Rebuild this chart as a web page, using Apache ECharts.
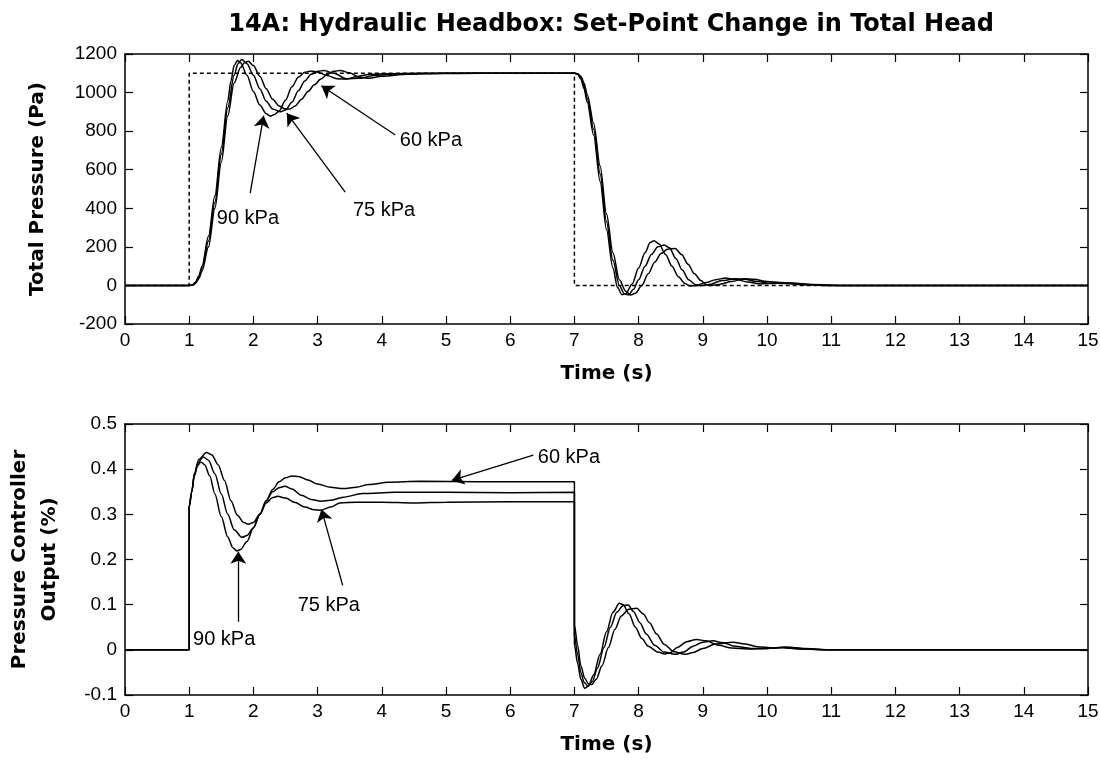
<!DOCTYPE html>
<html>
<head>
<meta charset="utf-8">
<script src="https://cdn.jsdelivr.net/npm/echarts@6/dist/echarts.min.js"></script>
<style>
html, body { margin: 0; padding: 0; background: #fff; }
#chart { width: 1100px; height: 763px; }
</style>
</head>
<body>
<div id="chart"></div>
<script>
// ---- Total head set-point (Pa) ----
const setTime = [0, 1, 1, 7, 7, 15];
const setHead = [0, 0, 1100, 1100, 0, 0];

// ---- Total pressure response (Pa), 90 kPa ----
const headTime90 = [0, 1.0, 1.05, 1.1, 1.15, 1.2, 1.3, 1.4, 1.5, 1.6, 1.65, 1.7, 1.75, 1.8, 1.9, 2.0, 2.1, 2.2, 2.26, 2.33, 2.4, 2.5, 2.6, 2.7, 2.8, 2.9, 3.0, 3.15, 3.3, 3.45, 3.6, 3.8, 4.1, 4.6, 7.0,
  7.05, 7.1, 7.15, 7.2, 7.3, 7.4, 7.5, 7.6, 7.67, 7.74, 7.8, 7.9, 8.0, 8.1, 8.18, 8.24, 8.32, 8.42, 8.52, 8.62, 8.72, 8.8, 8.9, 9.05, 9.2, 9.35, 9.5, 9.7, 9.9, 10.1, 10.3, 10.6, 11, 15];
const head90 = [0, 0, 3, 18, 50, 100, 255, 465, 715, 955, 1060, 1140, 1166, 1155, 1090, 1005, 935, 890, 878, 886, 905, 960, 1030, 1080, 1105, 1112, 1106, 1088, 1072, 1070, 1082, 1094, 1098, 1100, 1100,
  1095, 1070, 1020, 950, 780, 540, 290, 90, -10, -48, -42, 8, 90, 170, 222, 232, 215, 160, 100, 45, 10, -3, 0, 15, 30, 38, 32, 18, 8, 12, 10, 3, 0, 0];

// ---- Total pressure response (Pa), 75 kPa ----
const headTime75 = [0, 1.0, 1.06, 1.1, 1.15, 1.2, 1.3, 1.4, 1.5, 1.6, 1.7, 1.76, 1.82, 1.9, 2.0, 2.1, 2.2, 2.3, 2.42, 2.5, 2.6, 2.7, 2.8, 2.9, 3.0, 3.1, 3.25, 3.45, 3.65, 3.9, 4.3, 5.0, 7.0,
  7.05, 7.1, 7.15, 7.2, 7.3, 7.4, 7.5, 7.6, 7.7, 7.78, 7.85, 7.92, 8.0, 8.1, 8.2, 8.3, 8.4, 8.48, 8.58, 8.68, 8.78, 8.88, 8.96, 9.1, 9.3, 9.5, 9.65, 9.85, 10.05, 10.3, 10.6, 11, 15];
const head75 = [0, 0, 3, 15, 42, 88, 230, 430, 680, 920, 1090, 1150, 1172, 1150, 1090, 1020, 955, 915, 900, 910, 950, 1010, 1060, 1095, 1110, 1115, 1100, 1072, 1074, 1090, 1097, 1100, 1100,
  1097, 1080, 1035, 970, 810, 580, 330, 130, 0, -45, -48, -20, 30, 100, 160, 200, 210, 195, 140, 80, 30, 5, -2, 5, 25, 35, 32, 20, 10, 12, 5, 0, 0];

// ---- Total pressure response (Pa), 60 kPa ----
const headTime60 = [0, 1.0, 1.07, 1.1, 1.15, 1.2, 1.3, 1.4, 1.5, 1.6, 1.7, 1.8, 1.86, 1.92, 2.0, 2.1, 2.2, 2.3, 2.4, 2.5, 2.57, 2.65, 2.75, 2.85, 2.95, 3.05, 3.15, 3.25, 3.35, 3.5, 3.65, 3.8, 4.0, 4.4, 4.9, 5.5, 7.0,
  7.05, 7.1, 7.15, 7.2, 7.3, 7.4, 7.5, 7.6, 7.7, 7.8, 7.88, 7.95, 8.05, 8.15, 8.25, 8.35, 8.45, 8.57, 8.67, 8.77, 8.87, 8.97, 9.05, 9.12, 9.25, 9.45, 9.65, 9.8, 10.0, 10.2, 10.4, 10.7, 11.2, 15];
const head60 = [0, 0, 3, 12, 35, 75, 200, 400, 640, 880, 1050, 1130, 1155, 1162, 1140, 1085, 1020, 965, 930, 915, 915, 930, 965, 1005, 1040, 1070, 1095, 1110, 1115, 1102, 1080, 1074, 1084, 1095, 1099, 1100, 1100,
  1098, 1085, 1050, 990, 840, 620, 370, 170, 30, -30, -50, -40, 0, 60, 120, 165, 188, 192, 160, 110, 60, 25, 5, 0, 5, 20, 35, 32, 20, 15, 12, 5, 0, 0];

// ---- Pressure controller output, 90 kPa ----
const outTime90 = [0, 1.0, 1.0, 1.04, 1.08, 1.13, 1.18, 1.24, 1.32, 1.4, 1.5, 1.6, 1.68, 1.74, 1.8, 1.9, 2.0, 2.1, 2.2, 2.3, 2.38, 2.5, 2.65, 2.8, 2.95, 3.05, 3.2, 3.35, 3.6, 4.0, 4.5, 5.0, 6.0, 7.0,
  7.0, 7.05, 7.1, 7.16, 7.22, 7.3, 7.4, 7.5, 7.6, 7.7, 7.76, 7.85, 7.95, 8.05, 8.15, 8.3, 8.41, 8.5, 8.6, 8.75, 8.9, 9.05, 9.25, 9.45, 9.7, 10.0, 10.2, 10.5, 11, 15];
const out90 = [0, 0, 0.317, 0.35, 0.385, 0.408, 0.416, 0.41, 0.385, 0.345, 0.295, 0.25, 0.226, 0.219, 0.222, 0.24, 0.27, 0.3, 0.325, 0.337, 0.34, 0.336, 0.326, 0.316, 0.31, 0.309, 0.316, 0.325, 0.327, 0.327, 0.325, 0.327, 0.328, 0.328,
  0.011, -0.03, -0.065, -0.085, -0.08, -0.055, -0.01, 0.04, 0.083, 0.103, 0.1, 0.08, 0.05, 0.025, 0.008, -0.005, -0.009, -0.006, 0.005, 0.018, 0.023, 0.02, 0.01, 0.004, 0.002, 0.003, 0.005, 0.002, 0, 0];

// ---- Pressure controller output, 75 kPa ----
const outTime75 = [0, 1.0, 1.0, 1.04, 1.08, 1.14, 1.22, 1.3, 1.4, 1.5, 1.6, 1.7, 1.82, 1.9, 2.0, 2.1, 2.2, 2.3, 2.4, 2.49, 2.6, 2.75, 2.9, 3.05, 3.2, 3.4, 3.7, 4.2, 5.0, 6.0, 7.0,
  7.0, 7.05, 7.1, 7.15, 7.21, 7.28, 7.36, 7.46, 7.56, 7.66, 7.76, 7.84, 7.92, 8.02, 8.12, 8.25, 8.4, 8.57, 8.7, 8.85, 9.0, 9.16, 9.3, 9.5, 9.75, 10.0, 10.25, 10.6, 11, 15];
const out75 = [0, 0, 0.317, 0.35, 0.388, 0.415, 0.427, 0.42, 0.39, 0.345, 0.3, 0.266, 0.249, 0.253, 0.27, 0.3, 0.33, 0.35, 0.359, 0.362, 0.356, 0.342, 0.333, 0.329, 0.331, 0.338, 0.346, 0.349, 0.349, 0.348, 0.349,
  0.032, -0.01, -0.05, -0.072, -0.08, -0.07, -0.04, 0.005, 0.05, 0.083, 0.098, 0.099, 0.085, 0.06, 0.035, 0.01, -0.005, -0.01, -0.005, 0.008, 0.017, 0.02, 0.016, 0.008, 0.003, 0.003, 0.005, 0.002, 0, 0];

// ---- Pressure controller output, 60 kPa ----
const outTime60 = [0, 1.0, 1.0, 1.04, 1.08, 1.15, 1.27, 1.35, 1.45, 1.55, 1.65, 1.75, 1.85, 1.92, 2.0, 2.1, 2.2, 2.3, 2.4, 2.5, 2.6, 2.7, 2.85, 3.0, 3.2, 3.4, 3.6, 3.8, 4.1, 4.6, 5.5, 7.0,
  7.0, 7.05, 7.1, 7.16, 7.22, 7.27, 7.34, 7.43, 7.53, 7.63, 7.73, 7.85, 7.97, 8.07, 8.17, 8.28, 8.4, 8.55, 8.72, 8.85, 9.0, 9.2, 9.47, 9.65, 9.85, 10.1, 10.3, 10.6, 11, 15];
const out60 = [0, 0, 0.317, 0.35, 0.39, 0.422, 0.437, 0.432, 0.41, 0.375, 0.33, 0.298, 0.282, 0.278, 0.282, 0.3, 0.33, 0.355, 0.372, 0.381, 0.385, 0.384, 0.376, 0.367, 0.36, 0.357, 0.36, 0.366, 0.371, 0.373, 0.372, 0.372,
  0.055, 0.01, -0.035, -0.063, -0.075, -0.077, -0.065, -0.035, 0.005, 0.045, 0.075, 0.09, 0.092, 0.08, 0.06, 0.035, 0.012, -0.004, -0.01, -0.006, 0.003, 0.013, 0.017, 0.013, 0.007, 0.004, 0.006, 0.003, 0, 0];

// ---- Callouts: text anchor, arrow tail, arrow tip (data coordinates) ----
const noteText = ['90 kPa', '75 kPa', '60 kPa'];
const headNoteAt = [[1.43, 349], [3.55, 390], [4.28, 754]];
const headArrowFrom = [[1.95, 479], [3.43, 484], [4.21, 780]];
const headArrowTo = [[2.16, 880], [2.52, 893], [3.06, 1035]];
const outNoteAt = [[1.06, 0.022], [2.69, 0.099], [6.43, 0.425]];
const outArrowFrom = [[1.765, 0.062], [3.39, 0.143], [6.36, 0.431]];
const outArrowTo = [[1.765, 0.217], [3.06, 0.311], [5.09, 0.375]];

const zip = (t, v) => t.map((x, i) => [x, v[i]]);

const TICK_FONT = '"Liberation Sans", Arial, sans-serif';
const BOLD_FONT = '"DejaVu Sans", sans-serif';
const plainNumber = v => String(Math.round(v * 1000) / 1000);

function xAxes(grid) {
  const base = {
    type: 'value', gridIndex: grid, min: 0, max: 15, interval: 1,
    axisLine: { show: true, onZero: false, lineStyle: { color: '#000', width: 1.5 } },
    axisTick: { show: true, inside: true, length: 8, lineStyle: { color: '#000', width: 1.2 } },
    splitLine: { show: false }
  };
  return [
    Object.assign({}, base, {
      position: 'bottom',
      axisLabel: { color: '#000', fontFamily: TICK_FONT, fontSize: 19, margin: 7, formatter: plainNumber },
      name: 'Time (s)', nameLocation: 'middle', nameGap: 40,
      nameTextStyle: { color: '#000', fontFamily: BOLD_FONT, fontWeight: 'bold', fontSize: 20 }
    }),
    Object.assign({}, base, { position: 'top', axisLabel: { show: false } })
  ];
}

function yAxes(grid, min, max, interval, name, gap) {
  const base = {
    type: 'value', gridIndex: grid, min: min, max: max, interval: interval,
    axisLine: { show: true, onZero: false, lineStyle: { color: '#000', width: 1.5 } },
    axisTick: { show: true, inside: true, length: 8, lineStyle: { color: '#000', width: 1.2 } },
    splitLine: { show: false }
  };
  return [
    Object.assign({}, base, {
      position: 'left',
      axisLabel: { color: '#000', fontFamily: TICK_FONT, fontSize: 19, margin: 8, formatter: plainNumber },
      name: name, nameLocation: 'middle', nameGap: gap,
      nameTextStyle: { color: '#000', fontFamily: BOLD_FONT, fontWeight: 'bold', fontSize: 20, lineHeight: 30 }
    }),
    Object.assign({}, base, { position: 'right', axisLabel: { show: false } })
  ];
}

function response(data, xi, yi, dashed) {
  return {
    type: 'line', xAxisIndex: xi, yAxisIndex: yi, data: data,
    showSymbol: false, symbol: 'none', smooth: dashed ? false : 0.3, smoothMonotone: 'x',
    lineStyle: { color: '#000', width: 1.5, type: dashed ? [4, 3] : 'solid' },
    silent: true, z: 3
  };
}

function arrows(from, to, xi, yi) {
  return {
    type: 'lines', coordinateSystem: 'cartesian2d', xAxisIndex: xi, yAxisIndex: yi,
    symbol: ['none', 'arrow'], symbolSize: [7, 12],
    lineStyle: { color: '#000', width: 1.3, opacity: 1 },
    data: from.map((p, i) => ({ coords: [p, to[i]] })),
    silent: true, z: 4
  };
}

function notes(at, xi, yi) {
  return {
    type: 'scatter', xAxisIndex: xi, yAxisIndex: yi, symbolSize: 0,
    data: at.map((p, i) => [p[0], p[1], noteText[i]]),
    label: {
      show: true, position: 'right', distance: 0, color: '#000', opacity: 1,
      textBorderWidth: 0, fontFamily: TICK_FONT, fontSize: 20, formatter: p => p.value[2]
    },
    itemStyle: { opacity: 1 },
    silent: true, z: 5
  };
}

const chart = echarts.init(document.getElementById('chart'), null, { renderer: 'canvas' });
chart.setOption({
  animation: false,
  backgroundColor: '#fff',
  title: {
    text: '14A: Hydraulic Headbox: Set-Point Change in Total Head',
    left: 606, top: 8, textAlign: 'center',
    textStyle: { color: '#000', fontFamily: BOLD_FONT, fontWeight: 'bold', fontSize: 24 }
  },
  grid: [
    { left: 125, right: 12, top: 54, height: 270, containLabel: false, outerBoundsMode: 'none' },
    { left: 125, right: 12, top: 424, height: 271, containLabel: false, outerBoundsMode: 'none' }
  ],
  xAxis: xAxes(0).concat(xAxes(1)),
  yAxis: yAxes(0, -200, 1200, 200, 'Total Pressure (Pa)', 72)
    .concat(yAxes(1, -0.1, 0.5, 0.1, 'Pressure Controller\nOutput (%)', 60)),
  series: [
    response(zip(setTime, setHead), 0, 0, true),
    response(zip(headTime90, head90), 0, 0),
    response(zip(headTime75, head75), 0, 0),
    response(zip(headTime60, head60), 0, 0),
    arrows(headArrowFrom, headArrowTo, 0, 0),
    notes(headNoteAt, 0, 0),
    response(zip(outTime90, out90), 2, 2),
    response(zip(outTime75, out75), 2, 2),
    response(zip(outTime60, out60), 2, 2),
    arrows(outArrowFrom, outArrowTo, 2, 2),
    notes(outNoteAt, 2, 2)
  ]
});
</script>
</body>
</html>
